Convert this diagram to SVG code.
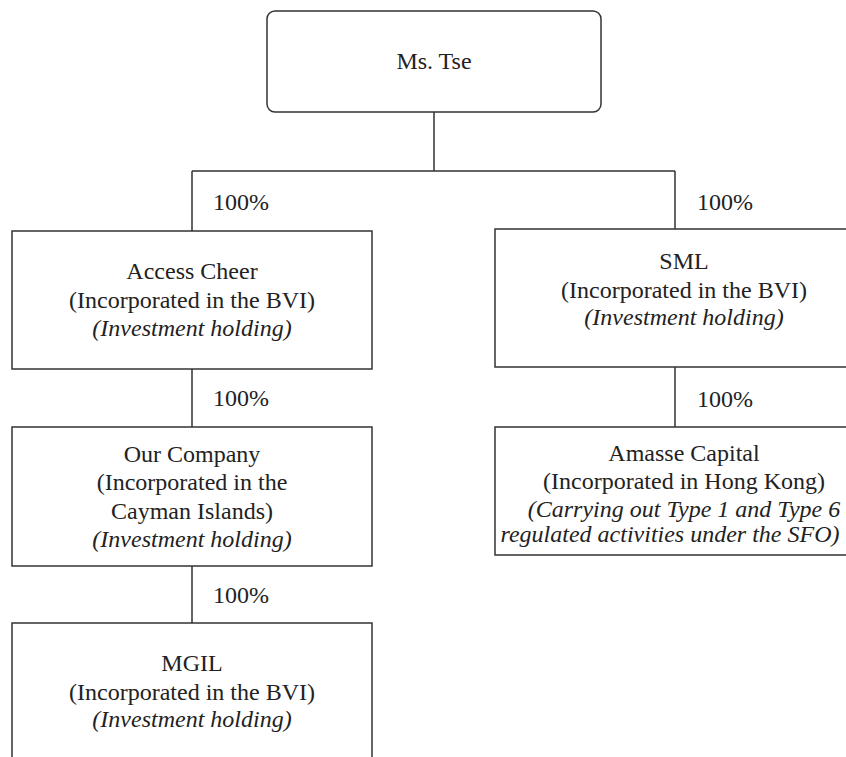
<svg xmlns="http://www.w3.org/2000/svg" width="846" height="757" viewBox="0 0 846 757">
<style>
.box{fill:#fff;stroke:#333;stroke-width:1.5}
.ln{fill:none;stroke:#333;stroke-width:1.5}
.t{font-family:'Liberation Serif','DejaVu Serif',serif;font-size:24px;fill:#222}
.c{text-anchor:middle}
.i{font-style:italic}
</style>
<rect width="846" height="757" fill="#fff"/>
<g id="connectors">
<path class="ln" d="M434,112V171M192,171H675M192,171V231M675,171V229M192,369V427M675,367V427M192,566V623"/>
<g class="t" font-family="Liberation Serif, DejaVu Serif, serif">
<text x="213" y="210">100%</text>
<text x="697" y="210">100%</text>
<text x="213" y="406">100%</text>
<text x="697" y="407">100%</text>
<text x="213" y="603">100%</text>
</g>
</g>
<g id="ms-tse">
<rect class="box" x="267" y="11" width="334" height="101" rx="8"/>
<text class="t c" font-family="Liberation Serif, DejaVu Serif, serif" x="434" y="69">Ms. Tse</text>
</g>
<g id="access-cheer" class="t" font-family="Liberation Serif, DejaVu Serif, serif">
<rect class="box" x="12" y="231" width="360" height="138"/>
<text class="c" x="192" y="279">Access Cheer</text>
<text class="c" x="192" y="308">(Incorporated in the BVI)</text>
<text class="c i" x="192" y="336">(Investment holding)</text>
</g>
<g id="our-company" class="t" font-family="Liberation Serif, DejaVu Serif, serif">
<rect class="box" x="12" y="427" width="360" height="139"/>
<text class="c" x="192" y="462">Our Company</text>
<text class="c" x="192" y="490">(Incorporated in the</text>
<text class="c" x="192" y="519">Cayman Islands)</text>
<text class="c i" x="192" y="547">(Investment holding)</text>
</g>
<g id="mgil" class="t" font-family="Liberation Serif, DejaVu Serif, serif">
<rect class="box" x="12" y="623" width="360" height="150"/>
<text class="c" x="192" y="671">MGIL</text>
<text class="c" x="192" y="700">(Incorporated in the BVI)</text>
<text class="c i" x="192" y="727">(Investment holding)</text>
</g>
<g id="sml" class="t" font-family="Liberation Serif, DejaVu Serif, serif">
<rect class="box" x="495" y="229" width="380" height="138"/>
<text class="c" x="684" y="269">SML</text>
<text class="c" x="684" y="298">(Incorporated in the BVI)</text>
<text class="c i" x="684" y="325">(Investment holding)</text>
</g>
<g id="amasse-capital" class="t" font-family="Liberation Serif, DejaVu Serif, serif">
<rect class="box" x="495" y="427" width="380" height="128"/>
<text class="c" x="684" y="461">Amasse Capital</text>
<text class="c" x="684" y="489">(Incorporated in Hong Kong)</text>
<text class="c i" x="684" y="517">(Carrying out Type 1 and Type 6</text>
<text class="c i" x="670" y="542">regulated activities under the SFO)</text>
</g>
</svg>
